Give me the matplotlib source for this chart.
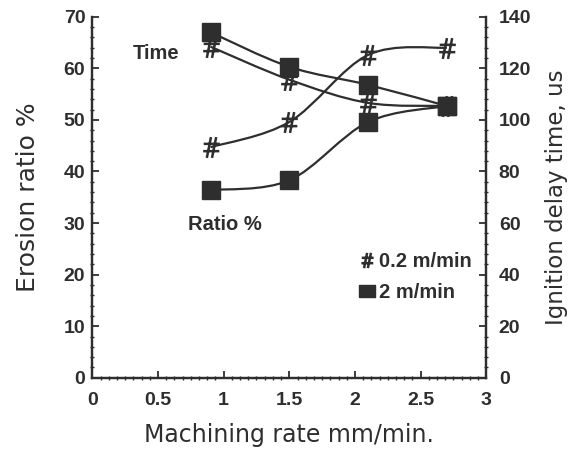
import numpy as np
import matplotlib.pyplot as plt
from matplotlib.path import Path
from matplotlib.patches import PathPatch
from matplotlib.lines import Line2D


# data
rate = [0.9, 1.5, 2.1, 2.7]                       # machining rate mm/min
ratio_02 = [44.7, 49.6, 62.6, 64.0]               # erosion ratio %, 0.2 m/min
ratio_2 = [36.4, 38.3, 49.6, 52.7]                # erosion ratio %, 2 m/min
time_02 = [128.4, 115.6, 106.6, 105.4]            # ignition delay time us, 0.2 m/min
time_2 = [134.0, 120.6, 113.6, 105.4]             # ignition delay time us, 2 m/min

ink = "#2e2e2e"
tickfont = "Liberation Sans"
labelfont = "DejaVu Sans"

# slanted "#" marker like the scanned one
hash_path = Path(
    [(-0.45, -1), (-0.05, 1), (0.05, -1), (0.45, 1),
     (-0.75, 0.35), (0.8, 0.35), (-0.8, -0.35), (0.75, -0.35)],
    [Path.MOVETO, Path.LINETO] * 4)


def smooth(ax, x, y):
    # catmull-rom style smoothed line as bezier segments (like the spreadsheet "smooth line")
    x = np.asarray(x, float)
    y = np.asarray(y, float)
    px = np.concatenate([[x[0]], x, [x[-1]]])
    py = np.concatenate([[y[0]], y, [y[-1]]])
    verts = [(x[0], y[0])]
    codes = [Path.MOVETO]
    for i in range(1, len(px) - 2):
        c1 = (px[i] + (px[i + 1] - px[i - 1]) / 6, py[i] + (py[i + 1] - py[i - 1]) / 6)
        c2 = (px[i + 1] - (px[i + 2] - px[i]) / 6, py[i + 1] - (py[i + 2] - py[i]) / 6)
        verts += [c1, c2, (px[i + 1], py[i + 1])]
        codes += [Path.CURVE4] * 3
    ax.add_patch(PathPatch(Path(verts, codes), fill=False, lw=1.6, edgecolor=ink, zorder=2))


fig = plt.figure(figsize=(5.88, 4.53), dpi=100)
ax = fig.add_axes([0.157, 0.166, 0.670, 0.797])
ax2 = ax.twinx()

hash_m = dict(marker=hash_path, markersize=15, markeredgewidth=1.8, color=ink, linestyle="none", zorder=3)
sq_m = dict(marker="s", markersize=13, color=ink, linestyle="none", zorder=3)

smooth(ax, rate, ratio_02)
smooth(ax, rate, ratio_2)
ax.plot(rate, ratio_02, **hash_m)
ax.plot(rate, ratio_2, **sq_m)

smooth(ax2, rate, time_02)
smooth(ax2, rate, time_2)
ax2.plot(rate, time_02, **hash_m)
ax2.plot(rate, time_2, **sq_m)

ax.set_xlim(0, 3)
ax.set_ylim(0, 70)
ax2.set_ylim(0, 140)
ax.set_xticks([0, 0.5, 1, 1.5, 2, 2.5, 3])
ax.set_xticklabels(["0", "0.5", "1", "1.5", "2", "2.5", "3"])
ax.set_yticks(np.arange(0, 71, 10))
ax2.set_yticks(np.arange(0, 141, 20))
ax.set_xticks(np.arange(0, 3.01, 0.0625), minor=True)
ax.set_yticks(np.arange(0, 70.1, 2), minor=True)
ax2.set_yticks(np.arange(0, 140.1, 4), minor=True)

for a in (ax, ax2):
    a.tick_params(direction="in", length=5, width=1.3, colors=ink, labelsize=14, pad=5)
    a.tick_params(which="minor", direction="inout", length=3, width=1.0, colors=ink)
    for s in a.spines.values():
        s.set_linewidth(1.6)
        s.set_color(ink)
    for t in a.get_xticklabels() + a.get_yticklabels():
        t.set_fontfamily(tickfont)
        t.set_fontweight("bold")
ax.tick_params(axis="x", pad=10)
ax2.tick_params(axis="y", pad=9)
ax.spines["top"].set_visible(False)
ax2.spines["top"].set_visible(False)

ax.set_xlabel("Machining rate mm/min.", fontsize=17, family=labelfont, color=ink, labelpad=10)
ax.set_ylabel("Erosion ratio %", fontsize=18, family=labelfont, color=ink, labelpad=17)
ax2.set_ylabel("Ignition delay time, us", fontsize=16.5, family=labelfont, color=ink, labelpad=10)

ax.text(0.31, 62.8, "Time", fontsize=14.5, family=tickfont, fontweight="bold", color=ink, va="center")
ax.text(0.73, 29.8, "Ratio %", fontsize=14.5, family=tickfont, fontweight="bold", color=ink, va="center")

hash_leg = dict(hash_m, markersize=11)
sq_leg = dict(sq_m, marker=Path([(-1, -0.75), (1, -0.75), (1, 0.75), (-1, 0.75), (-1, -0.75)]),
              markersize=12)
handles = [Line2D([], [], **hash_leg), Line2D([], [], **sq_leg)]
leg = ax.legend(handles, ["0.2 m/min", "2 m/min"], loc="center right",
                bbox_to_anchor=(1.01, 0.28), frameon=False, handlelength=0.8,
                handletextpad=0.2, labelspacing=0.6,
                prop={"family": tickfont, "weight": "bold", "size": 14.5})
for t in leg.get_texts():
    t.set_color(ink)

fig.savefig("out.png", dpi=100)
